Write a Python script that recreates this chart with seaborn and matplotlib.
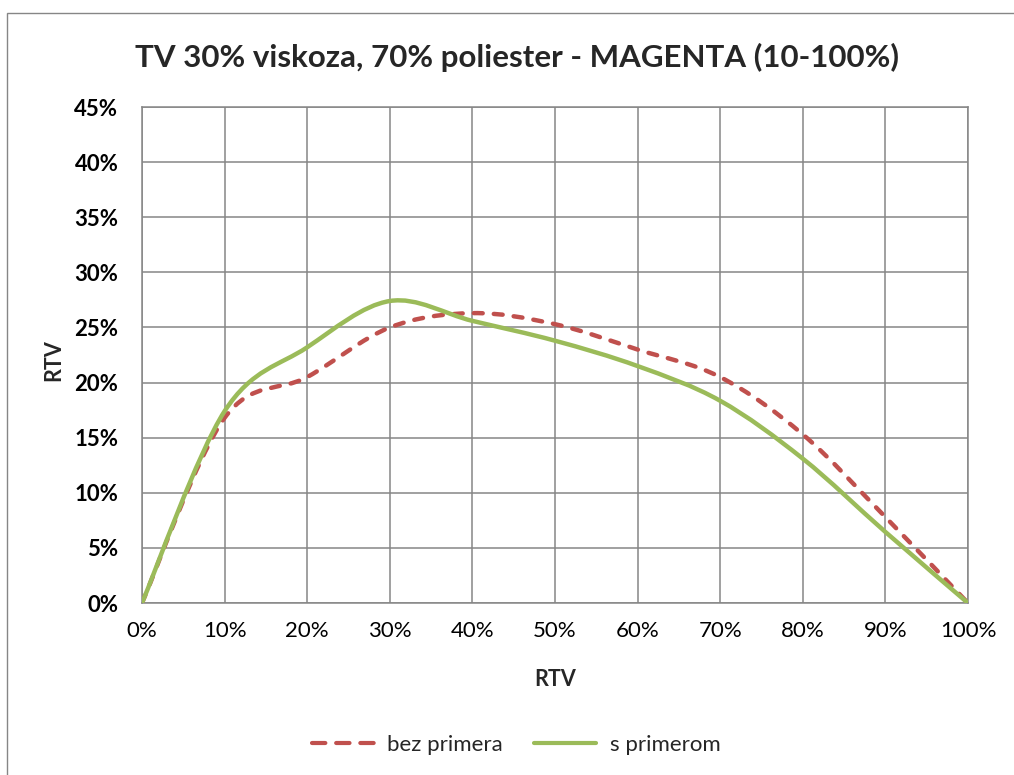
"""TV 30% viskoza, 70% poliester - MAGENTA: RTV curves with and without primer."""

import numpy as np
import pandas as pd
import seaborn as sns
import matplotlib.pyplot as plt
from matplotlib.path import Path
from matplotlib.patches import PathPatch, Rectangle
from matplotlib.lines import Line2D
from matplotlib.ticker import PercentFormatter, MultipleLocator

# ---------------------------------------------------------------------------
# Data (in %)
# ---------------------------------------------------------------------------
RTV_IN = [0, 10, 20, 30, 40, 50, 60, 70, 80, 90, 100]
BEZ_PRIMERA = [0, 16.8, 20.5, 25.0, 26.3, 25.3, 23.0, 20.5, 15.3, 7.8, 0]
S_PRIMEROM = [0, 17.4, 23.2, 27.4, 25.6, 23.8, 21.5, 18.35, 13.1, 6.45, 0]
SERIES = ["bez primera", "s primerom"]

TITLE = "TV 30% viskoza, 70% poliester - MAGENTA (10-100%)"
X_LABEL = "RTV"
Y_LABEL = "RTV"

COLORS = {"bez primera": "#C0504D", "s primerom": "#9BBB59"}
DASHES = {"bez primera": (0, (2.0, 2.5)), "s primerom": "solid"}
LEGEND_DASHES = {"bez primera": (0, (3.2, 2.6)), "s primerom": "solid"}
GRID = "#868686"
FONT = ["Lato", "DejaVu Sans"]


def smooth_path(xs, ys):
    """Excel-like smoothed line: cubic Bezier through every data point."""
    pts = np.column_stack([xs, ys]).astype(float)
    n = len(pts)
    verts, codes = [pts[0]], [Path.MOVETO]
    for i in range(n - 1):
        p0 = pts[max(i - 1, 0)]
        p1, p2 = pts[i], pts[i + 1]
        p3 = pts[min(i + 2, n - 1)]
        verts += [p1 + (p2 - p0) / 6, p2 - (p3 - p1) / 6, p2]
        codes += [Path.CURVE4] * 3
    return Path(verts, codes)


def main():
    df = pd.DataFrame({
        "x": RTV_IN * 2,
        "y": BEZ_PRIMERA + S_PRIMEROM,
        "serija": [SERIES[0]] * len(RTV_IN) + [SERIES[1]] * len(RTV_IN),
    })

    sns.set_theme(style="white")
    plt.rcParams["font.family"] = FONT

    fig = plt.figure(figsize=(10.14, 7.75), dpi=100)
    ax = fig.add_axes([0.1400, 0.2219, 0.8146, 0.6400])

    sns.lineplot(data=df, x="x", y="y", hue="serija", hue_order=SERIES,
                 palette=COLORS, legend=False, ax=ax)

    # swap the straight segments for smoothed curves
    for line, name in zip(ax.get_lines(), SERIES):
        xs, ys = line.get_data()
        line.set_visible(False)
        ax.add_patch(PathPatch(smooth_path(xs, ys), facecolor="none",
                               edgecolor=COLORS[name], lw=3.2,
                               linestyle=DASHES[name], capstyle="round",
                               joinstyle="round", zorder=3))

    ax.set_xlim(0, 100)
    ax.set_ylim(0, 45)
    ax.xaxis.set_major_locator(MultipleLocator(10))
    ax.yaxis.set_major_locator(MultipleLocator(5))
    ax.xaxis.set_major_formatter(PercentFormatter(decimals=0))
    ax.yaxis.set_major_formatter(PercentFormatter(decimals=0))
    ax.grid(True, color=GRID, lw=1.1)
    ax.set_axisbelow(True)
    for sp in ax.spines.values():
        sp.set_color(GRID)
        sp.set_linewidth(1.1)

    ax.tick_params(axis="both", length=0, labelsize=16, colors="black")
    ax.tick_params(axis="x", pad=13)
    ax.tick_params(axis="y", pad=17)
    for lbl in ax.get_yticklabels():
        lbl.set_fontweight("bold")

    ax.set_xlabel(X_LABEL, fontsize=15.5, fontweight="bold")
    ax.set_ylabel(Y_LABEL, fontsize=15.5, fontweight="bold")
    ax.xaxis.set_label_coords(0.5, -0.133)
    ax.yaxis.set_label_coords(-0.094, 0.49)

    fig.text(0.510, 0.926, TITLE, ha="center", va="center",
             fontsize=22.5, fontweight="bold")

    handles = [Line2D([], [], color=COLORS[n], lw=3.0,
                      linestyle=LEGEND_DASHES[n],
                      dash_capstyle="round", solid_capstyle="round")
               for n in SERIES]
    fig.legend(handles, SERIES, loc="center", bbox_to_anchor=(0.509, 0.039),
               ncol=2, frameon=False, fontsize=16, handlelength=2.8,
               columnspacing=1.4, handletextpad=0.6)

    # chart area border (cut off on the right and bottom in the reference)
    fig.patches.append(Rectangle((7 / 1014, -0.1), 1.2, 1.1 - 13 / 775,
                                 transform=fig.transFigure, fill=False,
                                 edgecolor=GRID, lw=1.0))

    fig.savefig("out.png", dpi=100)


if __name__ == "__main__":
    main()
